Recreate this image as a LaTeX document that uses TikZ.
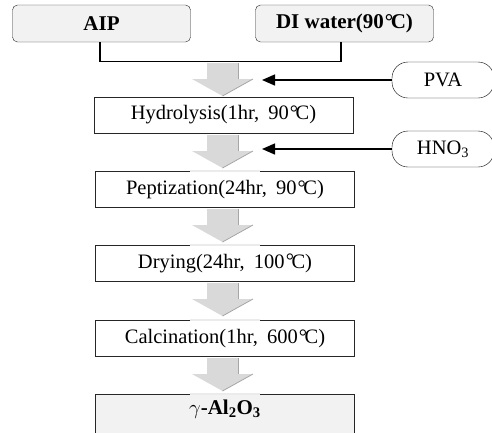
\documentclass[tikz,border=0pt]{standalone}
\usepackage{fontspec}
\setmainfont{Liberation Serif}
\newcommand\degC{{\kern0.05em\raisebox{0.02em}{°}\kern-0.12em C}}
\usetikzlibrary{arrows.meta}
\definecolor{boxfill}{HTML}{F2F2F2}
\definecolor{arrfill}{HTML}{D9D9D9}
\definecolor{arredge}{HTML}{A6A6A6}
\tikzset{
  basefont/.style={font=\fontsize{20.5}{24}\selectfont},
  src/.style={draw=black!85, fill=boxfill, rounded corners=5pt,
    minimum width=178pt, minimum height=37pt, inner sep=0pt, font=\fontsize{21}{25}\selectfont\bfseries},
  stepbox/.style={basefont, draw=black!85, fill=white, line width=0.8pt,
    minimum width=259pt, minimum height=36pt, inner sep=0pt},
  addbox/.style={basefont, draw=black, fill=white, rounded corners=16pt,
    minimum width=102pt, minimum height=36pt, inner sep=0pt},
  conn/.style={line width=1.4pt, black},
  feed/.style={line width=1.4pt, -{Triangle[length=13pt,width=11pt]}},
  gapline/.style={line width=1.6pt, black!8},
  blockarrow/.pic={
    \fill[arrfill] (-15.5,0) -- (15.5,0) -- (15.5,16) -- (30.5,16) -- (0,33)
      -- (-30.5,16) -- (-15.5,16) -- cycle;
    \draw[arredge, line width=0.9pt] (15.5,0) -- (15.5,16);
    \draw[arredge, line width=0.8pt] (30.5,16) -- (0,33);
  }
}
\newcommand\wsp{\hspace{0.45em}}
\begin{document}
\begin{tikzpicture}[x=1pt,y=-1pt]
\useasboundingbox (0,0) rectangle (492,432);
% sources
\node[src] (aip) at (101.5,23.5) {AIP};
\node[src] (di) at (344.5,23.5) {DI water(90\degC)};
\draw[conn] ([xshift=-1.5pt]aip.south) -- ++(0,19) -| ([xshift=-3.5pt]di.south);
% first block arrow
\pic at (222.5,63) {blockarrow};
% process boxes
\node[stepbox] (hyd) at (223.5,115) {Hydrolysis(1hr,\wsp90\degC)};
\node[stepbox] (pep) at (225,189.5) {Peptization(24hr,\wsp90\degC)};
\node[stepbox] (dry) at (225,263.5) {Drying(24hr,\wsp100\degC)};
\node[stepbox] (cal) at (225,338.5) {Calcination(1hr,\wsp600\degC)};
% final product box (cut by the page edge)
\fill[boxfill] (95,394) rectangle (354,440);
\draw[black!85, line width=0.8pt] (95,440) -- (95,394) -- (354,394) -- (354,440);
\node[font=\fontsize{21}{25}\selectfont, inner sep=0pt] (gam) at (225,409)
  {$\gamma$\textbf{-Al\textsubscript{2}O\textsubscript{3}}};
% gaps in box tops
\draw[gapline] (190,171) -- (260,171);
\draw[gapline] (190,245) -- (260,245);
\draw[gapline] (190,320) -- (260,320);
\draw[gapline] (190,394) -- (260,394);
% remaining block arrows
\pic at (222.5,135) {blockarrow};
\pic at (222.5,209) {blockarrow};
\pic at (222.5,283) {blockarrow};
\pic at (222.5,358) {blockarrow};
% additives
\node[addbox] (pva) at (443,80) {PVA};
\node[addbox] (hno) at (443,149) {HNO\textsubscript{3}};
\coordinate (pvain) at (262,80);
\coordinate (hnoin) at (262,149);
\draw[feed] (pva.west) -- (pvain);
\draw[feed] (hno.west) -- (hnoin);
\end{tikzpicture}
\end{document}
